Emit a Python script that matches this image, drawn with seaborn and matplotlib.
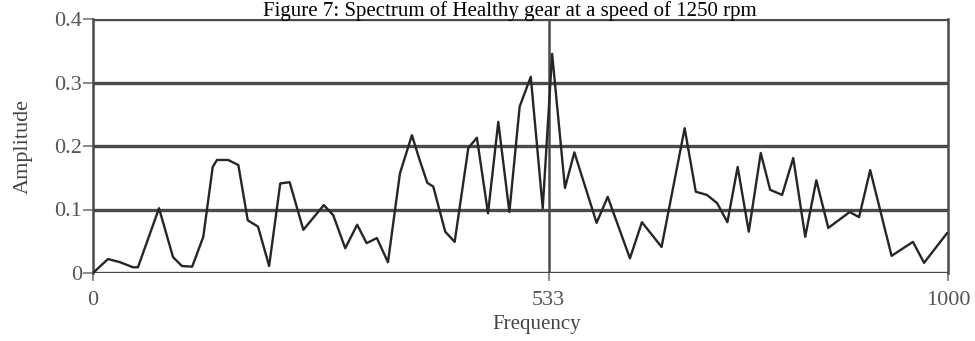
import matplotlib
matplotlib.use("Agg")
import matplotlib.pyplot as plt
import seaborn as sns
import pandas as pd

# Spectrum of a healthy gear at 1250 rpm
frequency = [0, 17.5, 31.6, 46.8, 52.6, 77.2, 93.6, 104, 116, 129, 140, 145, 158, 170,
             181, 193, 206, 219, 230, 246, 270, 281, 295, 309, 320, 332, 345, 359,
             373, 382, 391, 398, 412, 423, 439, 449, 462, 474, 487, 499, 512, 526,
             537, 552, 563, 589, 602, 628, 642, 665, 692, 705, 718, 730, 742, 754,
             767, 781, 792, 806, 819, 833, 846, 860, 885, 896, 909, 934, 959, 972, 999]
amplitude = [0.0, 0.022, 0.017, 0.009, 0.009, 0.102, 0.025, 0.011, 0.010, 0.057, 0.167,
             0.178, 0.178, 0.170, 0.083, 0.073, 0.011, 0.141, 0.143, 0.068, 0.107,
             0.091, 0.039, 0.076, 0.047, 0.055, 0.017, 0.157, 0.217, 0.178, 0.142,
             0.136, 0.065, 0.049, 0.197, 0.213, 0.094, 0.238, 0.096, 0.262, 0.309,
             0.102, 0.345, 0.134, 0.190, 0.079, 0.120, 0.023, 0.080, 0.041, 0.228,
             0.128, 0.123, 0.110, 0.080, 0.167, 0.065, 0.189, 0.131, 0.123, 0.181,
             0.057, 0.146, 0.071, 0.096, 0.088, 0.162, 0.027, 0.049, 0.016, 0.063]

y_ticks = [0, 0.1, 0.2, 0.3, 0.4]
y_tick_labels = ["0", "0.1", "0.2", "0.3", "0.4"]
x_ticks = [0, 533, 1000]
x_tick_labels = ["0", "533", "1000"]
title = "Figure 7: Spectrum of Healthy gear at a speed of 1250 rpm"

df = pd.DataFrame({"Frequency": frequency, "Amplitude": amplitude})

sns.set_style("white")
plt.rcParams["font.family"] = ["Liberation Serif", "DejaVu Serif"]

fig = plt.figure(figsize=(9.75, 3.41), dpi=100)
ax = fig.add_axes([93 / 975, 1 - 273 / 341, 855 / 975, 254 / 341])

grid_color = "#4a4a4a"
for yv in y_ticks:
    ax.axhline(yv, color=grid_color, lw=2.4, zorder=1)
ax.axvline(533, color=grid_color, lw=1.8, zorder=1)

sns.lineplot(data=df, x="Frequency", y="Amplitude", ax=ax, color="#262626",
             lw=1.7, zorder=3)

ax.set_xlim(0, 1000)
ax.set_ylim(0, 0.4)
ax.set_yticks(y_ticks)
ax.set_yticklabels(y_tick_labels)
ax.set_xticks(x_ticks)
ax.set_xticklabels(x_tick_labels)

for side in ("top", "bottom"):
    ax.spines[side].set_visible(False)
for side in ("left", "right"):
    ax.spines[side].set_visible(True)
    ax.spines[side].set_color(grid_color)
    ax.spines[side].set_linewidth(1.8)

ax.tick_params(axis="y", left=True, length=7, width=1.2, color="#777777",
               labelsize=16, labelcolor="#555555", pad=1)
ax.tick_params(axis="x", bottom=True, length=6, width=1.2, color="#777777",
               labelsize=16, labelcolor="#555555", pad=7)

ax.set_xlabel("Frequency", fontsize=15, color="#444444")
ax.set_ylabel("Amplitude", fontsize=16, color="#444444")
ax.xaxis.set_label_coords((537 - 93) / 855, -0.165)
ax.yaxis.set_label_coords(-0.071, 0.5)

fig.text(510 / 975, 1 - 1 / 341, title, ha="center", va="top",
         fontsize=15, color="black")

fig.savefig("out.png", dpi=100)
